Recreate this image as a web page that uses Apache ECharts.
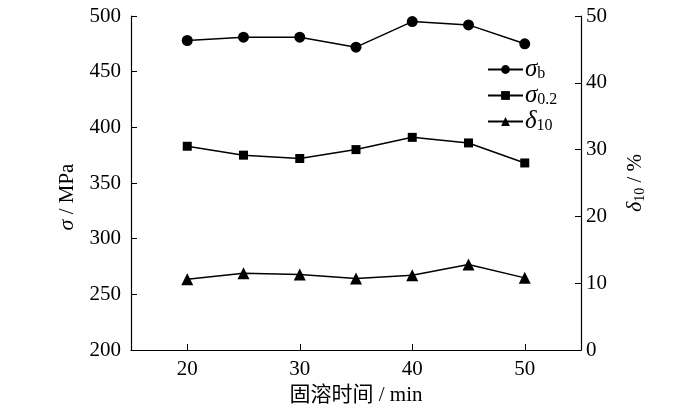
<!DOCTYPE html>
<html>
<head>
<meta charset="utf-8">
<script src="https://cdn.jsdelivr.net/npm/echarts@6/dist/echarts.min.js"></script>
<style>
  html, body { margin: 0; padding: 0; background: #fff; }
  #main { width: 700px; height: 411px; }
</style>
</head>
<body>
<div id="main"></div>
<script>
// solution time, min
const times = [20, 25, 30, 35, 40, 45, 50];
const xTicks = [20, 30, 40, 50];
// tensile strength sigma_b, MPa
const sigmaB = [478, 481, 481, 472, 495, 492, 475];
// yield strength sigma_0.2, MPa
const sigma02 = [383, 375, 372, 380, 391, 386, 368];
// elongation delta_10, %
const delta10 = [10.6, 11.5, 11.3, 10.7, 11.2, 12.8, 10.8];

const FONT = "'Liberation Serif', 'Noto Sans CJK SC', serif";
const rich = {
  i: { fontFamily: FONT, fontSize: 22, fontStyle: 'italic', color: '#000', lineHeight: 24 },
  n: { fontFamily: FONT, fontSize: 21, color: '#000', lineHeight: 24 },
  sub: { fontFamily: FONT, fontSize: 14, color: '#000', lineHeight: 12, verticalAlign: 'bottom' }
};
const legendRich = {
  i: { fontFamily: FONT, fontSize: 25, fontStyle: 'italic', color: '#000', lineHeight: 24 },
  sub: { fontFamily: FONT, fontSize: 16, color: '#000', lineHeight: 12, verticalAlign: 'bottom' }
};

const pairs = (vals) => times.map((t, i) => [t, vals[i]]);

const chart = echarts.init(document.getElementById('main'));

const legendText = {
  'σb': '{i|σ}{sub|b}',
  'σ0.2': '{i|σ}{sub|0.2}',
  'δ10': '{i|δ}{sub|10}'
};

const lineStyle = { color: '#000', width: 1.5 };

chart.setOption({
  animation: false,
  grid: { left: 131, right: 119, top: 16, bottom: 61 },
  legend: {
    orient: 'vertical',
    left: 482,
    top: 52,
    itemWidth: 35,
    itemHeight: 11,
    itemGap: 1,
    data: ['σb', 'σ0.2', 'δ10'],
    formatter: (name) => legendText[name],
    textStyle: { rich: legendRich, padding: [0, 0, 0, -3] }
  },
  xAxis: {
    type: 'value',
    min: 15,
    max: 55,
    name: '固溶时间 / min',
    nameLocation: 'middle',
    nameGap: 34,
    nameTextStyle: { fontFamily: FONT, fontSize: 21, color: '#000' },
    axisLine: { lineStyle: { color: '#000', width: 1.2 } },
    axisTick: { inside: true, length: 6, customValues: xTicks, lineStyle: { color: '#000' } },
    axisLabel: { customValues: xTicks, fontFamily: FONT, fontSize: 21, color: '#000', margin: 9 },
    splitLine: { show: false }
  },
  yAxis: [
    {
      type: 'value',
      min: 200,
      max: 500,
      interval: 50,
      name: '{i|σ}{n| / MPa}',
      nameLocation: 'middle',
      nameGap: 52,
      nameTextStyle: { rich: rich, padding: [0, 28, 0, 0] },
      axisLine: { show: true, lineStyle: { color: '#000', width: 1.2 } },
      axisTick: { show: true, inside: true, length: 6, lineStyle: { color: '#000' } },
      axisLabel: { fontFamily: FONT, fontSize: 21, color: '#000', margin: 10 },
      splitLine: { show: false }
    },
    {
      type: 'value',
      min: 0,
      max: 50,
      interval: 10,
      position: 'right',
      name: '{i|δ}{sub|10}{n| / %}',
      nameLocation: 'middle',
      nameGap: 42,
      nameRotate: 90,
      nameTextStyle: { rich: rich },
      axisLine: { show: true, lineStyle: { color: '#000', width: 1.2 } },
      axisTick: { show: true, inside: true, length: 6, lineStyle: { color: '#000' } },
      axisLabel: { fontFamily: FONT, fontSize: 21, color: '#000', margin: 5 },
      splitLine: { show: false }
    }
  ],
  series: [
    {
      name: 'σb',
      type: 'line',
      data: pairs(sigmaB),
      symbol: 'circle',
      symbolSize: 11,
      itemStyle: { color: '#000' },
      lineStyle: lineStyle
    },
    {
      name: 'σ0.2',
      type: 'line',
      data: pairs(sigma02),
      symbol: 'rect',
      symbolSize: 9,
      itemStyle: { color: '#000' },
      lineStyle: lineStyle
    },
    {
      name: 'δ10',
      type: 'line',
      yAxisIndex: 1,
      data: pairs(delta10),
      symbol: 'triangle',
      symbolSize: 12,
      itemStyle: { color: '#000' },
      lineStyle: lineStyle
    }
  ]
});
</script>
</body>
</html>
